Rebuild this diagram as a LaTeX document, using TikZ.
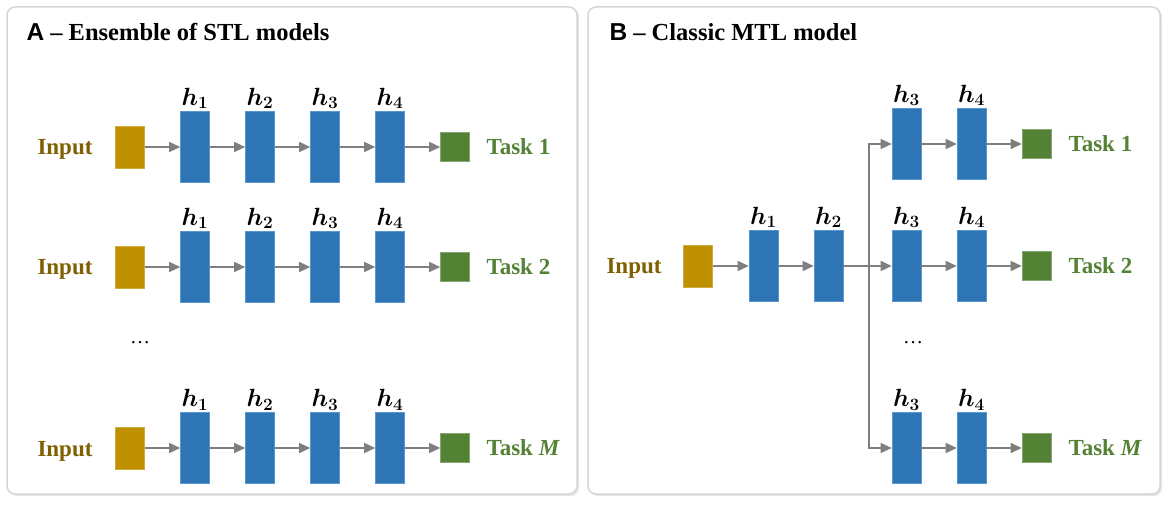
\documentclass[tikz,border=0pt]{standalone}
\usepackage{bm}
\usepackage{fontspec}
\setmainfont{Liberation Serif}
\newfontfamily\headsans{Liberation Sans}
\usetikzlibrary{arrows.meta,positioning,shadows}
\definecolor{hidblue}{HTML}{2E75B6}
\definecolor{hidedge}{HTML}{5A97D0}
\definecolor{inpgold}{HTML}{BF9000}
\definecolor{inptext}{HTML}{7F6000}
\definecolor{outgreen}{HTML}{548235}
\definecolor{arrgray}{HTML}{7F7F7F}
\definecolor{panelgray}{HTML}{D6D6D6}

\begin{document}
\begin{tikzpicture}
        [%%%%%%%%%%%%%%%%%%%%%%%%%%%%%%
        x=1pt, y=-1pt,
        panel/.style={draw=panelgray, line width=1.5pt, fill=white, rounded corners=8pt,
          drop shadow={shadow xshift=2pt, shadow yshift=-2pt, opacity=0.2}},
        hid/.style={draw=hidedge, line width=0.6pt, fill=hidblue, minimum width=29pt, minimum height=71pt, inner sep=0pt},
        inbox/.style={draw=inpgold!75!white, line width=0.6pt, fill=inpgold, minimum width=29pt, minimum height=42pt, inner sep=0pt},
        outbox/.style={draw=outgreen!70!white, line width=0.6pt, fill=outgreen, minimum width=29pt, minimum height=29pt, inner sep=0pt},
        hlbl/.style={font=\fontsize{25}{29}\selectfont, inner sep=1pt},
        inlbl/.style={text=inptext, font=\fontsize{23}{27}\selectfont\bfseries, anchor=base},
        tasklbl/.style={text=outgreen, font=\fontsize{23}{27}\selectfont\bfseries, anchor=west},
        ttl/.style={font=\fontsize{24.5}{28}\selectfont\bfseries, anchor=base west},
        arr/.style={draw=arrgray, line width=1.4pt, -{Triangle[length=11pt,width=10pt]}},
        ]%%%%%%%%%%%%%%%%%%%%%%%%%%%%%%
        \useasboundingbox (0,0) rectangle (1174,510);
        % Panels
        \draw[panel] (7,7) rectangle (577,494);
        \draw[panel] (588,7) rectangle (1160,494);
        % Titles
        \node[ttl] (atitle) at (23,41) {{\headsans A} – Ensemble of STL models};
        \node[ttl] (btitle) at (606,41) {{\headsans B} – Classic MTL model};

        % LEFT PANEL: one chain per task
        \foreach \r/\y/\t in {1/147/1, 2/267/2, M/448/{\textit{M}}}{
            \node[inlbl] (ain\r) at (65,\y+8) {Input};
            \node[inbox] (ax\r) at (130,\y) {};
            \foreach \i/\x in {1/195,2/260,3/325,4/390}{
                \node[hid] (a\r h\i) at (\x,\y) {};
                \node[hlbl, above=1pt of a\r h\i] (a\r l\i) {$\bm{h}_{\bm{\i}}$};
            }
            \node[outbox] (ay\r) at (455,\y) {};
            \node[tasklbl] (at\r) at (483,\y) {Task \t};
            % Lines
            \draw[arr] (ax\r) -- (a\r h1);
            \draw[arr] (a\r h1) -- (a\r h2);
            \draw[arr] (a\r h2) -- (a\r h3);
            \draw[arr] (a\r h3) -- (a\r h4);
            \draw[arr] (a\r h4) -- (ay\r);
        }
        \node[font=\fontsize{20}{24}\selectfont] (adots) at (140,343) {\dots};

        % RIGHT PANEL: shared trunk
        \node[inlbl] (bin) at (634,274) {Input};
        \node[inbox] (bx) at (698,266) {};
        \node[hid] (bh1) at (763.5,266) {};
        \node[hid] (bh2) at (828.5,266) {};
        \node[hlbl, above=1pt of bh1] (bl1) {$\bm{h}_{\bm{1}}$};
        \node[hlbl, above=1pt of bh2] (bl2) {$\bm{h}_{\bm{2}}$};
        \coordinate (br) at (869,266);
        % RIGHT PANEL: task heads
        \foreach \r/\y/\t in {1/144/1, 2/266/2, M/448/{\textit{M}}}{
            \node[hid] (b\r h3) at (906.5,\y) {};
            \node[hid] (b\r h4) at (971.5,\y) {};
            \node[hlbl, above=1pt of b\r h3] (b\r l3) {$\bm{h}_{\bm{3}}$};
            \node[hlbl, above=1pt of b\r h4] (b\r l4) {$\bm{h}_{\bm{4}}$};
            \node[outbox] (by\r) at (1036.5,\y) {};
            \node[tasklbl] (bt\r) at (1065,\y) {Task \t};
            \draw[arr] (b\r h3) -- (b\r h4);
            \draw[arr] (b\r h4) -- (by\r);
        }
        \node[font=\fontsize{20}{24}\selectfont] (bdots) at (913,343) {\dots};
        % Lines
        \draw[arr] (bx) -- (bh1);
        \draw[arr] (bh1) -- (bh2);
        \draw[arr] (bh2) -- (b2h3);
        \draw[arr] (br) |- (b1h3);
        \draw[arr] (br) |- (bMh3);
\end{tikzpicture}
\end{document}
